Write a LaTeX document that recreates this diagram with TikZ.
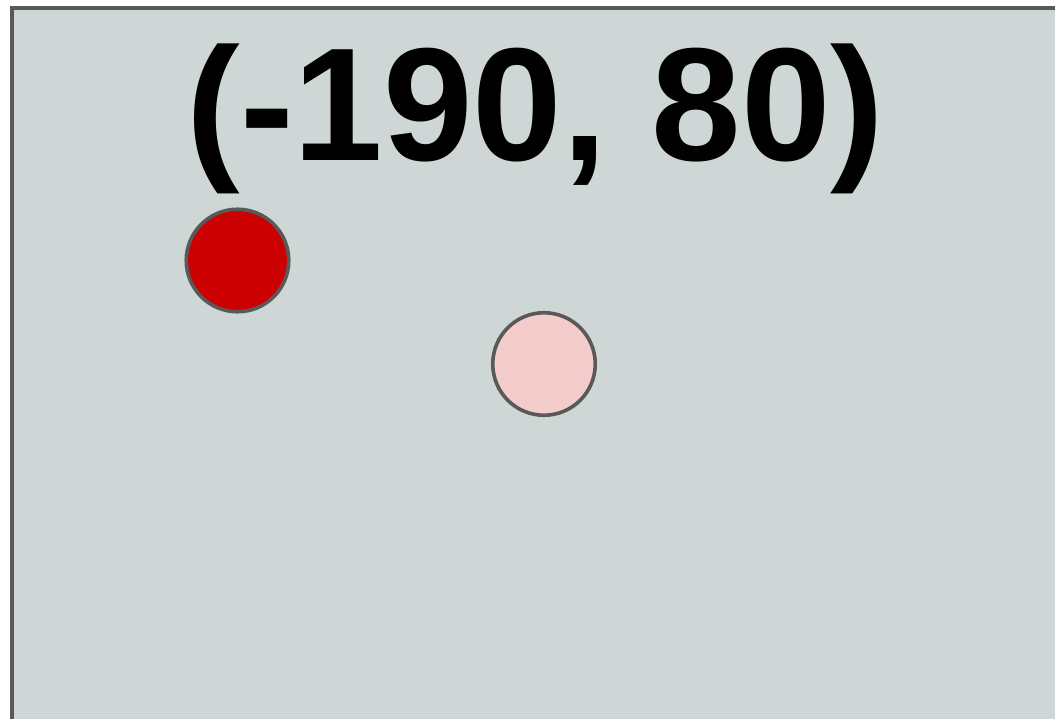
\documentclass[tikz,border=0pt]{standalone}
\usepackage{fontspec}
\setmainfont{Liberation Sans}
\definecolor{bgray}{HTML}{CFD6D6}
\definecolor{edgegray}{HTML}{595959}
\definecolor{dotred}{HTML}{CC0000}
\definecolor{dotpink}{HTML}{F4CCCC}
\begin{document}
\begin{tikzpicture}[x=1pt,y=-1pt,
  dot/.style={circle,draw=edgegray,line width=3.6pt,minimum size=102.5pt,inner sep=0pt}]
\useasboundingbox (0,0) rectangle (1055,718);
\fill[white] (0,0) rectangle (1055,718);
\clip (0,0) rectangle (1055,718);
\draw[fill=bgray,draw=edgegray,line width=4pt] (11.8,7.5) rectangle (1080,740);
\node[anchor=base,inner sep=0pt,font=\fontsize{161}{170}\selectfont\bfseries] (label) at (535.5,160) {(-190, 80)};
\node[dot,fill=dotred] (red) at (237.5,260.5) {};
\node[dot,fill=dotpink] (pink) at (544,364) {};
\end{tikzpicture}
\end{document}
